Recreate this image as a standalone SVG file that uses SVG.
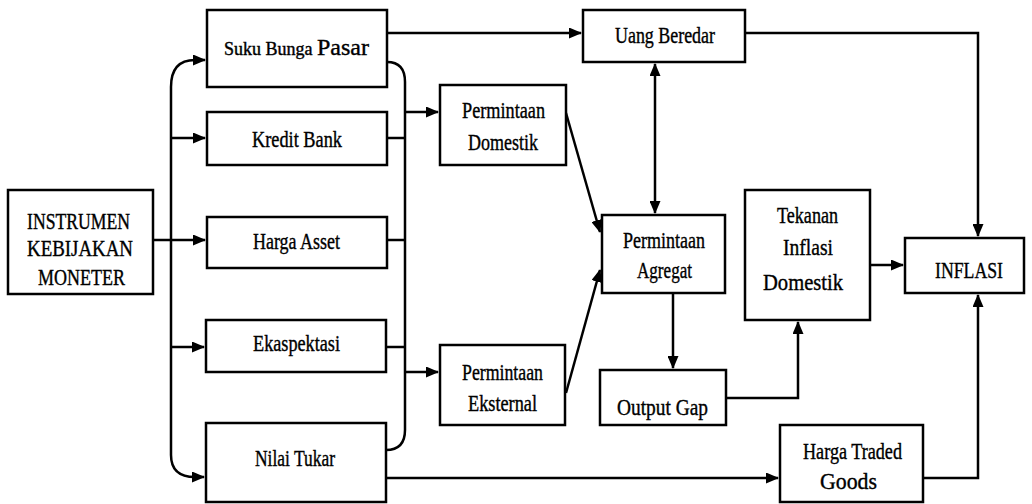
<svg xmlns="http://www.w3.org/2000/svg" width="1032" height="504" viewBox="0 0 1032 504">
<style>
.box{fill:#fff;stroke:#000;stroke-width:2.5}
.ln{fill:none;stroke:#000;stroke-width:2.5}
.t{font-family:"Liberation Serif","Times New Roman",serif;font-size:24px;fill:#000;stroke:#000;stroke-width:0.4;text-anchor:start}
</style>
<defs>
<marker id="ah" markerUnits="userSpaceOnUse" markerWidth="13" markerHeight="11" refX="12" refY="5.5" orient="auto-start-reverse">
<path d="M0,0 L13,5.5 L0,11 z" fill="#000"/>
</marker>
</defs>
<rect width="1032" height="504" fill="#fff"/>
<g id="connectors">
<path class="ln" d="M171,240 V87 Q171,60 195,60 H205" marker-end="url(#ah)"/>
<path class="ln" d="M171,240 V455 Q171,477 195,477 H204" marker-end="url(#ah)"/>
<path class="ln" d="M153,240 H205" marker-end="url(#ah)"/>
<path class="ln" d="M171,138 H205" marker-end="url(#ah)"/>
<path class="ln" d="M171,347 H204" marker-end="url(#ah)"/>
<path class="ln" d="M387,62 Q405,62 405,82 V430 Q405,450 386,450"/>
<path class="ln" d="M387,138 H405"/>
<path class="ln" d="M387,240 H405"/>
<path class="ln" d="M386,347 H405"/>
<path class="ln" d="M405,112 H438" marker-end="url(#ah)"/>
<path class="ln" d="M405,372 H438" marker-end="url(#ah)"/>
<path class="ln" d="M387,33 H581" marker-end="url(#ah)"/>
<path class="ln" d="M745,33 H978 V236" marker-end="url(#ah)"/>
<path class="ln" d="M655,64 V213" marker-start="url(#ah)" marker-end="url(#ah)"/>
<path class="ln" d="M566,113 L600,232" marker-end="url(#ah)"/>
<path class="ln" d="M566,393 L600,270" marker-end="url(#ah)"/>
<path class="ln" d="M673,293 V368" marker-end="url(#ah)"/>
<path class="ln" d="M726,398 H798 V322" marker-end="url(#ah)"/>
<path class="ln" d="M870,265 H903" marker-end="url(#ah)"/>
<path class="ln" d="M386,478 H778" marker-end="url(#ah)"/>
<path class="ln" d="M923,478 H978 V295" marker-end="url(#ah)"/>
</g>
<g id="instrumen">
<rect class="box" x="8" y="190" width="145" height="104"/>
<text class="t" x="27" y="229" textLength="103" lengthAdjust="spacingAndGlyphs">INSTRUMEN</text>
<text class="t" x="27" y="256" textLength="106" lengthAdjust="spacingAndGlyphs">KEBIJAKAN</text>
<text class="t" x="38" y="285" textLength="87" lengthAdjust="spacingAndGlyphs">MONETER</text>
</g>
<g id="suku-bunga">
<rect class="box" x="207" y="10" width="180" height="77"/>
<text class="t" x="224" y="55" style="font-size:18px">Suku Bunga <tspan style="font-size:24px">Pasar</tspan></text>
</g>
<g id="kredit-bank">
<rect class="box" x="207" y="112" width="180" height="53"/>
<text class="t" x="252" y="147" textLength="90" lengthAdjust="spacingAndGlyphs">Kredit Bank</text>
</g>
<g id="harga-asset">
<rect class="box" x="207" y="217" width="180" height="51"/>
<text class="t" x="253" y="249" textLength="87" lengthAdjust="spacingAndGlyphs">Harga Asset</text>
</g>
<g id="ekaspektasi">
<rect class="box" x="206" y="320" width="180" height="52"/>
<text class="t" x="253" y="351" textLength="87" lengthAdjust="spacingAndGlyphs">Ekaspektasi</text>
</g>
<g id="nilai-tukar">
<rect class="box" x="206" y="423" width="180" height="79"/>
<text class="t" x="255" y="466" textLength="80" lengthAdjust="spacingAndGlyphs">Nilai Tukar</text>
</g>
<g id="uang-beredar">
<rect class="box" x="583" y="10" width="162" height="52"/>
<text class="t" x="615" y="43" textLength="100" lengthAdjust="spacingAndGlyphs">Uang Beredar</text>
</g>
<g id="permintaan-domestik">
<rect class="box" x="440" y="85" width="126" height="80"/>
<text class="t" x="462" y="118" textLength="83" lengthAdjust="spacingAndGlyphs">Permintaan</text>
<text class="t" x="468" y="150" textLength="70" lengthAdjust="spacingAndGlyphs">Domestik</text>
</g>
<g id="permintaan-eksternal">
<rect class="box" x="440" y="345" width="125" height="80"/>
<text class="t" x="462" y="380" textLength="81" lengthAdjust="spacingAndGlyphs">Permintaan</text>
<text class="t" x="468" y="411" textLength="69" lengthAdjust="spacingAndGlyphs">Eksternal</text>
</g>
<g id="permintaan-agregat">
<rect class="box" x="602" y="215" width="123" height="78"/>
<text class="t" x="623" y="248" textLength="82" lengthAdjust="spacingAndGlyphs">Permintaan</text>
<text class="t" x="637" y="278" textLength="55" lengthAdjust="spacingAndGlyphs">Agregat</text>
</g>
<g id="output-gap">
<rect class="box" x="600" y="370" width="126" height="55"/>
<text class="t" x="617" y="415" textLength="91" lengthAdjust="spacingAndGlyphs">Output Gap</text>
</g>
<g id="tekanan-inflasi">
<rect class="box" x="745" y="190" width="125" height="130"/>
<text class="t" x="777" y="223" textLength="61" lengthAdjust="spacingAndGlyphs">Tekanan</text>
<text class="t" x="783" y="255" textLength="50" lengthAdjust="spacingAndGlyphs">Inflasi</text>
<text class="t" x="763" y="290" textLength="80" lengthAdjust="spacingAndGlyphs">Domestik</text>
</g>
<g id="inflasi">
<rect class="box" x="905" y="238" width="119" height="55"/>
<text class="t" x="935" y="278" textLength="68" lengthAdjust="spacingAndGlyphs">INFLASI</text>
</g>
<g id="harga-traded">
<rect class="box" x="780" y="425" width="143" height="77"/>
<text class="t" x="803" y="459" textLength="99" lengthAdjust="spacingAndGlyphs">Harga Traded</text>
<text class="t" x="820" y="489" textLength="57" lengthAdjust="spacingAndGlyphs">Goods</text>
</g>
</svg>
